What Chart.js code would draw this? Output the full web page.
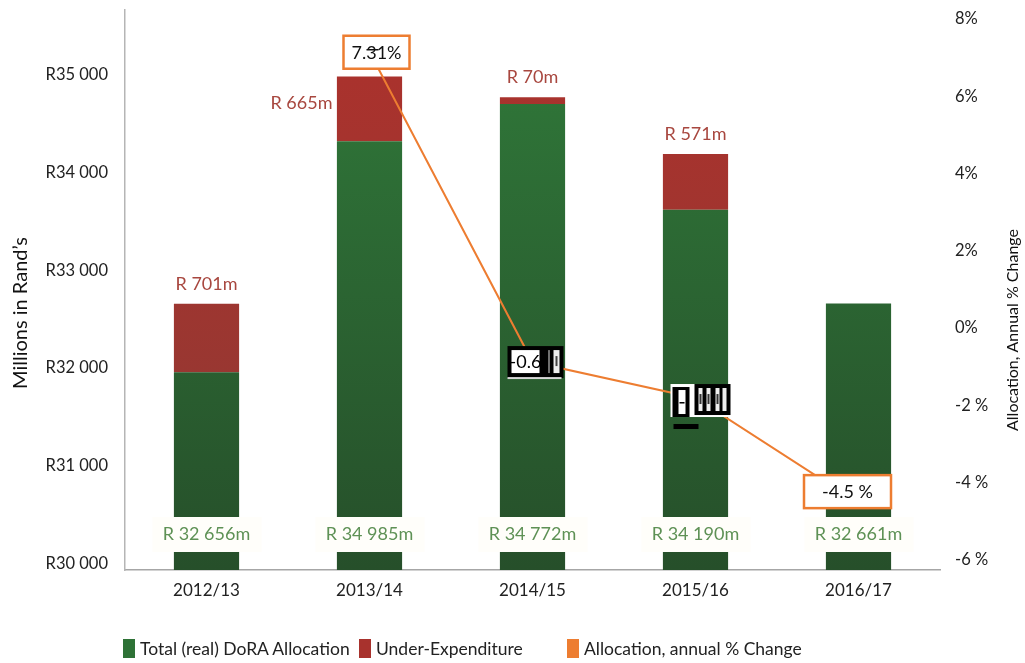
<!DOCTYPE html>
<html>
<head>
<meta charset="utf-8">
<script src="https://cdn.jsdelivr.net/npm/chart.js@4.4.0/dist/chart.umd.min.js"></script>
<style>
  body { margin: 0; background: #fff; font-family: Lato, "Liberation Sans", sans-serif; }
  #wrap { position: relative; width: 1025px; height: 663px; }
  #legend { position: absolute; left: 123px; top: 638px; display: flex; font-size: 17.5px; color: #222; }
  #legend span { display: flex; align-items: center; }
  #legend i { display: inline-block; width: 12px; height: 19px; margin-right: 5px; }
</style>
</head>
<body>
<div id="wrap">
  <canvas id="doraChart"></canvas>
  <div id="legend">
    <span style="width:236px"><i style="background:#2E7236"></i>Total (real) DoRA Allocation</span>
    <span style="width:208px"><i style="background:#A8322D"></i>Under-Expenditure</span>
    <span><i style="background:#ED7D31"></i>Allocation, annual % Change</span>
  </div>
</div>
<script>
// values (R millions)
const years = ['2012/13', '2013/14', '2014/15', '2015/16', '2016/17'];
const spentPart = [31955, 34320, 34702, 33619, 32661];
const underExpenditure = [701, 665, 70, 571, 0];
const totalAllocation = [32656, 34985, 34772, 34190, 32661];
const pctChange = [null, 7.15, -0.88, -1.81, -4.53];
const pctLabels = ['', '7.31%', '-0.6', '-1.69%', '-4.5 %'];
const randTicks = [30000, 31000, 32000, 33000, 34000, 35000];
const pctTicks = [-6, -4, -2, 0, 2, 4, 6, 8];

const FONT = 'Lato, "Liberation Sans", sans-serif';
const ORANGE = '#ED7D31';

function spaced(n) {
  return String(n).replace(/\B(?=(\d{3})+(?!\d))/g, ' ');
}

function vGradient(ctx, area, top, bottom) {
  const g = ctx.createLinearGradient(0, area.top, 0, area.bottom);
  g.addColorStop(0, top);
  g.addColorStop(1, bottom);
  return g;
}

function noPad(s) {
  s.paddingTop = 0;
  s.paddingBottom = 0;
  s.paddingLeft = 0;
  s.paddingRight = 0;
}

// labels, boxes and titles drawn over the datasets
const labelPlugin = {
  id: 'labelPlugin',
  afterDatasetsDraw(chart) {
    const ctx = chart.ctx;
    const green = chart.getDatasetMeta(0).data;
    const red = chart.getDatasetMeta(1).data;
    const line = chart.getDatasetMeta(2).data;
    const base = chart.scales.y.bottom;
    ctx.save();
    ctx.textBaseline = 'middle';

    // total allocation labels near the base
    ctx.font = '18px ' + FONT;
    ctx.textAlign = 'center';
    green.forEach((bar, i) => {
      const cy = base - 36;
      ctx.fillStyle = '#FFFEFA';
      ctx.fillRect(bar.x - 54, cy - 17, 109, 35);
      ctx.fillStyle = '#5E9155';
      ctx.fillText('R ' + spaced(totalAllocation[i]) + 'm', bar.x, cy);
    });

    // under-expenditure labels
    ctx.fillStyle = '#A8473F';
    red.forEach((bar, i) => {
      if (!underExpenditure[i]) return;
      const txt = 'R ' + underExpenditure[i] + 'm';
      if (i === 1) {
        ctx.textAlign = 'right';
        ctx.fillText(txt, bar.x - 37, bar.y + 27);
      } else {
        ctx.textAlign = 'center';
        ctx.fillText(txt, bar.x, bar.y - 20);
      }
    });

    // % change labels
    const rect = (x, y, w, h, c) => { ctx.fillStyle = c; ctx.fillRect(x, y, w, h); };
    line.forEach((pt, i) => {
      if (pctChange[i] === null) return;
      const x = pt.x, y = pt.y;
      if (i === 1 || i === 4) {
        const cx = i === 1 ? x + 7 : x - 11;
        const cy = i === 1 ? y + 0 : y - 12;
        const w = i === 1 ? 66 : 87;
        rect(cx - w / 2, cy - 16, w, 33, '#FFFFFF');
        ctx.strokeStyle = ORANGE;
        ctx.lineWidth = 2.5;
        ctx.strokeRect(cx - w / 2, cy - 16, w, 33);
        ctx.fillStyle = '#111';
        ctx.textAlign = 'center';
        ctx.font = '18px ' + FONT;
        ctx.fillText(pctLabels[i], cx, cy + 1);
        if (i === 1) {
          ctx.strokeStyle = '#111';
          ctx.lineWidth = 1.5;
          ctx.beginPath();
          ctx.moveTo(cx - 10, cy - 2);
          ctx.lineTo(cx + 2, cy - 2);
          ctx.stroke();
        }
      } else if (i === 2) {
        rect(x - 25, y - 16, 56, 32, '#000');
        rect(x - 25, y + 15, 54, 2, '#D8D8D8');
        rect(x - 21, y - 12, 28, 23, '#FFF');
        ctx.fillStyle = '#000';
        ctx.textAlign = 'left';
        ctx.font = '18px ' + FONT;
        ctx.fillText(pctLabels[i], x - 23, y);
        rect(x + 16, y - 12, 1, 23, '#DDD');
        rect(x + 21, y - 12, 6, 23, '#EEE');
        rect(x + 23, y - 6, 2, 10, '#444');
      } else if (i === 3) {
        rect(x - 25, y - 14, 61, 33, '#FFF');
        rect(x - 23, y - 11, 17, 30, '#000');
        rect(x - 17, y - 8, 7, 24, '#FFF');
        rect(x - 16, y + 4, 5, 1.5, '#000');
        rect(x - 1, y - 14, 36, 31, '#000');
        [3, 11, 20, 27].forEach(d => rect(x + d, y - 10, 4, 23, '#EEE'));
        [4, 12, 21].forEach(d => rect(x + d, y - 4, 2, 10, '#333'));
        rect(x - 22, y + 26, 25, 5, '#000');
      }
    });

    // axis titles, both reading bottom to top
    ctx.fillStyle = '#111';
    ctx.textAlign = 'center';
    ctx.save();
    ctx.translate(21, 313);
    ctx.rotate(-Math.PI / 2);
    ctx.font = '20px ' + FONT;
    ctx.fillText('Millions in Rand\u2019s', 0, 0);
    ctx.restore();
    ctx.save();
    ctx.translate(1013, 330);
    ctx.rotate(-Math.PI / 2);
    ctx.font = '16px ' + FONT;
    ctx.fillText('Allocation, Annual % Change', 0, 0);
    ctx.restore();

    ctx.restore();
  }
};

const ctx = document.getElementById('doraChart').getContext('2d');
const doraChart = new Chart(ctx, {
  type: 'bar',
  data: {
    labels: years,
    datasets: [{
      label: 'Total (real) DoRA Allocation',
      data: spentPart,
      backgroundColor: c => c.chart.chartArea ? vGradient(c.chart.ctx, c.chart.chartArea, '#307A3A', '#264F2A') : '#2E7236',
      yAxisID: 'y',
      order: 2
    }, {
      label: 'Under-Expenditure',
      data: underExpenditure,
      backgroundColor: c => c.chart.chartArea ? vGradient(c.chart.ctx, c.chart.chartArea, '#AD312C', '#8E3A34') : '#A8322D',
      yAxisID: 'y',
      order: 2
    }, {
      type: 'line',
      label: 'Allocation, annual % Change',
      data: pctChange,
      borderColor: ORANGE,
      backgroundColor: ORANGE,
      borderWidth: 2,
      pointRadius: 0,
      tension: 0,
      yAxisID: 'y2',
      order: 0
    }]
  },
  options: {
    responsive: true,
    maintainAspectRatio: false,
    animation: false,
    layout: { padding: { top: 10, left: 0, right: 0, bottom: 0 } },
    datasets: { bar: { barPercentage: 0.4, categoryPercentage: 1 } },
    plugins: {
      legend: { display: false },
      tooltip: { enabled: false }
    },
    scales: {
      x: {
        stacked: true,
        grid: { display: false, drawTicks: false },
        border: { color: '#A6A6A6', width: 1.5 },
        ticks: { color: '#222', font: { family: FONT, size: 17 }, padding: 10 },
        afterFit: s => { s.height = 93; noPad(s); }
      },
      y: {
        stacked: true,
        position: 'left',
        min: 29931,
        max: 35665,
        grid: { display: false, drawTicks: false },
        border: { color: '#B5B5B5', width: 1.5 },
        afterBuildTicks: s => { s.ticks = randTicks.map(v => ({ value: v })); },
        ticks: {
          color: '#222',
          font: { family: FONT, size: 16.5 },
          padding: 17,
          callback: v => 'R' + spaced(v)
        },
        afterFit: s => { s.width = 125; noPad(s); }
      },
      y2: {
        position: 'right',
        min: -6.26,
        max: 8.23,
        grid: { display: false, drawTicks: false },
        border: { display: false },
        afterBuildTicks: s => { s.ticks = pctTicks.map(v => ({ value: v })); },
        ticks: {
          color: '#222',
          font: { family: FONT, size: 16.5 },
          padding: 15,
          callback: v => v < 0 ? v + ' %' : v + '%'
        },
        afterFit: s => { s.width = 85; noPad(s); }
      }
    }
  },
  plugins: [labelPlugin]
});
</script>
</body>
</html>
